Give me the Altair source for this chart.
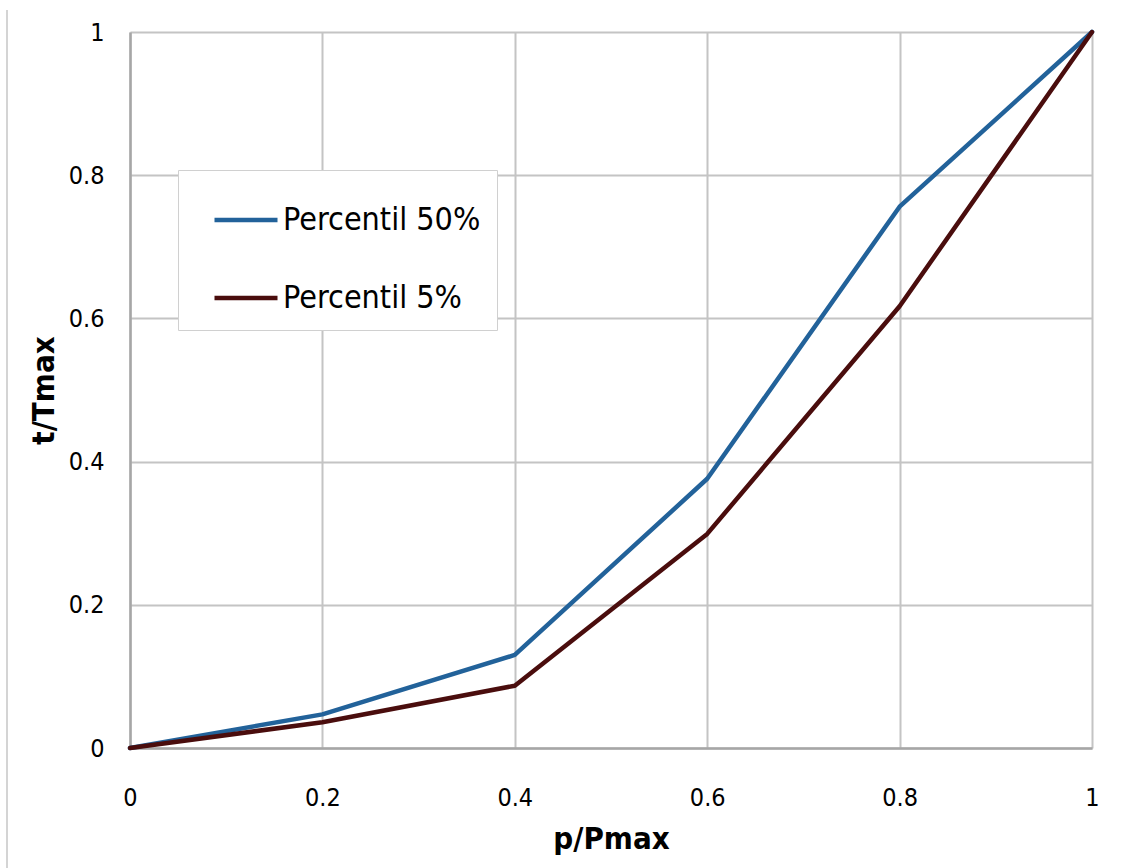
import altair as alt
import pandas as pd

x_vals = [0, 0.2, 0.4, 0.6, 0.8, 1.0]
y_ticks = [0, 0.2, 0.4, 0.6, 0.8, 1.0]
p50 = [0, 0.047, 0.130, 0.376, 0.756, 1.0]
p5 = [0, 0.036, 0.087, 0.299, 0.617, 1.0]
series_names = ["Percentil 50%", "Percentil 5%"]
colors = ["#22629a", "#4a0d0d"]

rows = []
for name, vals in zip(series_names, [p50, p5]):
    for xv, yv in zip(x_vals, vals):
        rows.append({"x": xv, "y": yv, "serie": name})
df = pd.DataFrame(rows)

FONT = "Liberation Sans Narrow, DejaVu Sans Condensed, Open Sans, sans-serif"

lines = alt.Chart(df).mark_line(strokeWidth=4.5, strokeCap="round", strokeJoin="round").encode(
    x=alt.X("x:Q", scale=alt.Scale(domain=[0, 1], nice=False),
            axis=alt.Axis(title="p/Pmax", values=x_vals, format="~g", grid=True,
                          ticks=False, labelFlush=False, labelPadding=37, titlePadding=14)),
    y=alt.Y("y:Q", scale=alt.Scale(domain=[0, 1], nice=False),
            axis=alt.Axis(title="t/Tmax", values=y_ticks, format="~g",
                          grid=True, ticks=False, labelFlush=False,
                          labelPadding=26, titlePadding=8)),
    color=alt.Color("serie:N", scale=alt.Scale(domain=series_names, range=colors),
                    legend=alt.Legend(title=None, orient="none", legendX=48, legendY=138,
                                      direction="vertical", symbolType="stroke",
                                      symbolSize=3969, symbolStrokeWidth=4.5,
                                      symbolOffset=18,
                                      labelFontSize=32, labelFont=FONT, labelColor="#000000",
                                      rowPadding=28, padding=16, fillColor="white",
                                      strokeColor="#D0D0D0", labelOffset=3,
                                      labelLimit=400)),
    order="serie:N",
)

edge = alt.Chart(pd.DataFrame({"a": [0]})).mark_rule(color="#D4D4D4", strokeWidth=2).encode(
    x=alt.value(-123), y=alt.value(-22), y2=alt.value(836)
)

chart = alt.layer(edge, lines).properties(
    width=962, height=716,
    autosize=alt.AutoSizeParams(type="none"),
    padding={"left": 130, "top": 32, "right": 39, "bottom": 120},
    background="white",
).configure_view(stroke=None).configure_axis(
    domainColor="#A6A6A6", domainWidth=2.5, gridColor="#C4C4C4", gridWidth=2,
    labelFont=FONT, labelFontSize=25, labelColor="#000000",
    titleFont=FONT, titleFontSize=31, titleFontWeight="bold", titleColor="#000000",
)

chart.save("out.html", embed_options={"renderer": "svg", "actions": False})
